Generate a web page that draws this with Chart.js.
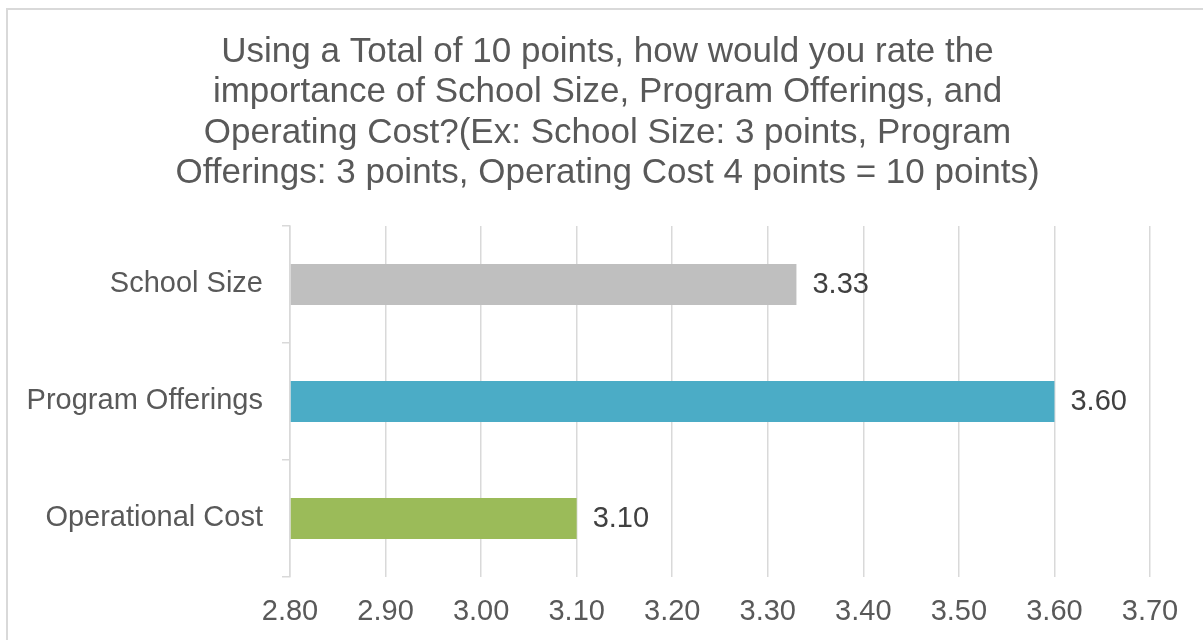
<!DOCTYPE html>
<html>
<head>
<meta charset="utf-8">
<script src="https://cdn.jsdelivr.net/npm/chart.js@4/dist/chart.umd.min.js"></script>
<style>
    html, body { margin: 0; padding: 0; background: #ffffff; overflow: hidden; }
    #frame {
        position: absolute; left: 6px; top: 8px;
        width: 1300px; height: 700px;
        border: 2px solid #d9d9d9; box-sizing: border-box;
    }
    #wrap { position: absolute; left: 0; top: 0; width: 1203px; height: 640px; }
</style>
</head>
<body>
<div id="frame"></div>
<div id="wrap"><canvas id="rateChart" width="1203" height="640"></canvas></div>
<script>
const titleLines = [
    'Using a Total of 10 points, how would you rate the',
    'importance of School Size, Program Offerings, and',
    'Operating Cost?(Ex: School Size: 3 points, Program',
    'Offerings: 3 points, Operating Cost 4 points = 10 points)'
];
const categories = ['School Size', 'Program Offerings', 'Operational Cost'];
const ratings = [3.33, 3.60, 3.10];
const barColors = ['#bfbfbf', '#4bacc6', '#9bbb59'];
const axisMin = 2.8;
const axisMax = 3.7;
const axisStep = 0.1;

const FONT = "'Liberation Sans', Arial, sans-serif";

// draws the value next to the end of each bar
const valueLabels = {
    id: 'valueLabels',
    afterDatasetsDraw(chart) {
        const ctx = chart.ctx;
        const meta = chart.getDatasetMeta(0);
        ctx.save();
        ctx.font = '29px ' + FONT;
        ctx.fillStyle = '#404040';
        ctx.textAlign = 'left';
        ctx.textBaseline = 'middle';
        meta.data.forEach((bar, i) => {
            ctx.fillText(ratings[i].toFixed(2), bar.x + 16, bar.y + 1);
        });
        ctx.restore();
    }
};

const ctx = document.getElementById('rateChart').getContext('2d');
new Chart(ctx, {
    type: 'bar',
    data: {
        labels: categories,
        datasets: [{
            data: ratings,
            backgroundColor: barColors,
            borderWidth: 0,
            categoryPercentage: 1,
            barPercentage: 0.35,
            base: axisMin
        }]
    },
    options: {
        indexAxis: 'y',
        responsive: false,
        animation: false,
        layout: { padding: { left: 12, right: 0, top: 0, bottom: 0 } },
        plugins: {
            legend: { display: false },
            tooltip: { enabled: false },
            title: {
                display: true,
                text: titleLines,
                color: '#595959',
                font: { family: FONT, size: 35, weight: 'normal', lineHeight: 1.157 },
                padding: { top: 32, bottom: 32 }
            }
        },
        scales: {
            x: {
                min: axisMin,
                max: axisMax,
                afterFit: (scale) => { scale.height = 63; },
                grid: { color: '#d9d9d9', lineWidth: 1.5, drawTicks: false },
                border: { display: false },
                ticks: {
                    stepSize: axisStep,
                    padding: 18,
                    color: '#595959',
                    font: { family: FONT, size: 29 },
                    callback: (value) => Number(value).toFixed(2)
                }
            },
            y: {
                afterFit: (scale) => { scale.width = 278; },
                grid: {
                    offset: true,
                    drawOnChartArea: false,
                    drawTicks: true,
                    tickLength: 8,
                    color: '#d9d9d9',
                    lineWidth: 1.5
                },
                border: { display: true, color: '#d9d9d9', width: 1.5 },
                ticks: {
                    padding: 19,
                    color: '#595959',
                    font: { family: FONT, size: 29 }
                }
            },
            // empty right-hand axis, only reserves the space right of the plot
            spacer: {
                type: 'linear',
                position: 'right',
                afterFit: (scale) => { scale.width = 53; },
                grid: { display: false },
                border: { display: false },
                ticks: { display: false }
            }
        }
    },
    plugins: [valueLabels]
});
</script>
</body>
</html>
